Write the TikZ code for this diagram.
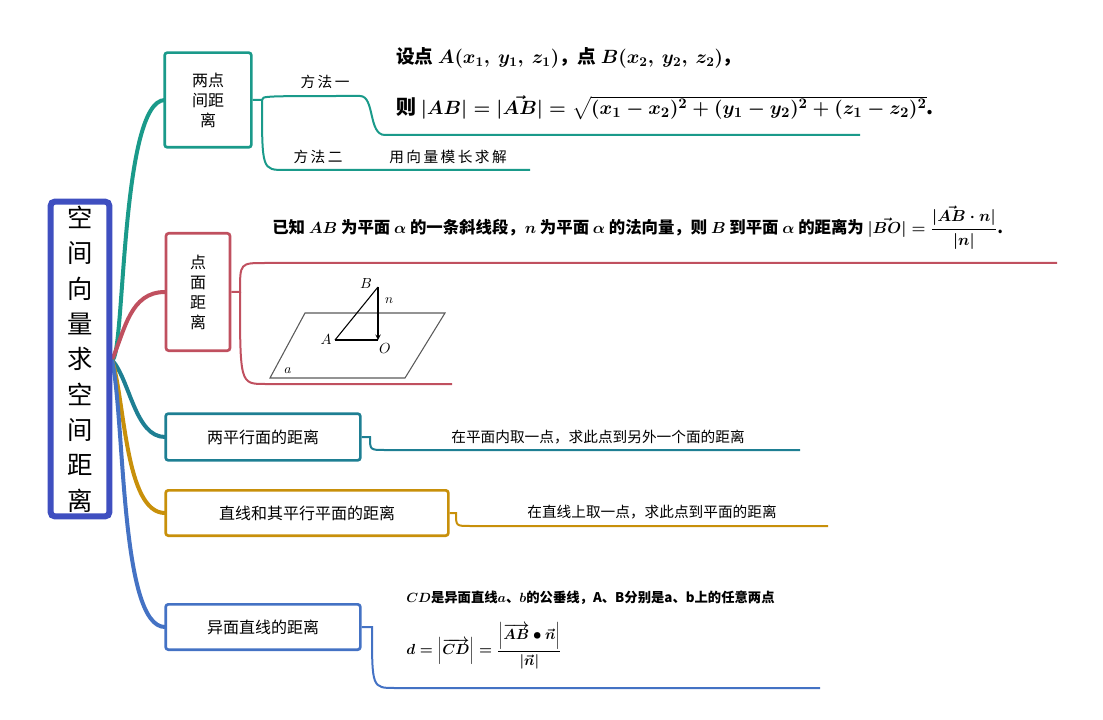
\documentclass[tikz,border=0pt]{standalone}
\usepackage{fontspec}
\setmainfont{Noto Sans CJK SC}
\usepackage{amsmath}
\begin{document}
\begin{tikzpicture}[x=0.75pt,y=-0.75pt,
  box/.style={draw=#1,line width=2pt,fill=white,rounded corners=2pt,inner sep=4pt,font=\fontsize{12}{15}\selectfont,align=center},
  br/.style={draw=#1,line width=3pt},
  ln/.style={draw=#1,line width=1.5pt},
  lab/.style={font=\fontsize{11}{13}\selectfont,anchor=center,inner sep=0pt}]
\definecolor{cT}{HTML}{1A9A8A}
\definecolor{cR}{HTML}{C0505F}
\definecolor{cB}{HTML}{1E7F93}
\definecolor{cG}{HTML}{C8900A}
\definecolor{cL}{HTML}{4472C4}
\definecolor{cRoot}{HTML}{3F4FC0}
\useasboundingbox (0,0) rectangle (1103,720);
\coordinate (r) at (112,360);
% root connectors
\draw[br=cT] (r) .. controls (125,360) and (120,100) .. (165,100);
\draw[br=cR] (r) .. controls (125,330) and (130,292) .. (165,292);
\draw[br=cB] (r) .. controls (130,380) and (135,437) .. (165,437);
\draw[br=cG] (r) .. controls (125,400) and (125,513) .. (165,513);
\draw[br=cL] (r) .. controls (125,420) and (120,627) .. (165,627);
\node[draw=cRoot,line width=4.5pt,fill=white,rounded corners=3pt,minimum width=44pt,minimum height=236pt,inner sep=0pt,align=center,font=\fontsize{19}{26.5}\selectfont] (root) at (80,359) {空\\间\\向\\量\\求\\空\\间\\距\\离};
% branch 1
\node[box=cT,minimum width=65pt,minimum height=71pt] (b1) at (208,100) {两点\\间距\\离};
\coordinate (m1) at (262,100);
\draw[ln=cT] (b1.east) -- (m1) .. controls (262,96) .. (360,96) .. controls (375,96) and (368,135) .. (385,135) -- (860,135);
\draw[ln=cT] (m1) .. controls (262,170) .. (285,170) -- (530,170);
\node[lab] (f1) at (325,82) {方\,法\,一};
\node[lab] (f2) at (318,157) {方\,法\,二};
\node[lab] (f2t) at (448,157) {用\,向\,量\,模\,长\,求\,解};
\node[anchor=west,font=\fontsize{14}{16}\selectfont\bfseries,inner sep=0pt] (t11) at (396,58) {设点 $\boldsymbol{A(x_1,\ y_1,\ z_1)}$，点 $\boldsymbol{B(x_2,\ y_2,\ z_2)}$，};
\node[anchor=west,font=\fontsize{15}{17}\selectfont\bfseries,inner sep=0pt] (t12) at (396,108) {则 $\boldsymbol{|AB|=|\vec{AB}|=\sqrt{(x_1-x_2)^2+(y_1-y_2)^2+(z_1-z_2)^2}}$.};
% branch 2
\node[box=cR,minimum width=48pt,minimum height=88pt] (b2) at (198,292) {点\\面\\距\\离};
\coordinate (m2) at (240,292);
\draw[ln=cR] (b2.east) -- (m2) .. controls (240,263) .. (265,263) -- (1057,263);
\draw[ln=cR] (m2) .. controls (240,384) .. (265,384) -- (452,384);
\node[anchor=west,font=\fontsize{12.3}{14}\selectfont\bfseries,inner sep=0pt] (t2) at (272,228) {已知 $\boldsymbol{AB}$ 为平面 $\boldsymbol{\alpha}$ 的一条斜线段，$\boldsymbol{n}$ 为平面 $\boldsymbol{\alpha}$ 的法向量，则 $\boldsymbol{B}$ 到平面 $\boldsymbol{\alpha}$ 的距离为 $\boldsymbol{|\vec{BO}|=\dfrac{|\vec{AB}\cdot n|}{|n|}}$.};
\draw[gray!70!black,line width=0.8pt] (305,313) -- (445,313) -- (405,378) -- (270,378) -- cycle;
\coordinate (pB) at (378,287); \coordinate (pA) at (335,340); \coordinate (pO) at (378,340);
\draw[black,line width=0.8pt] (pA) -- (pB);
\draw[black,line width=0.8pt] (pA) -- (pO);
\draw[black,line width=0.8pt,-stealth] (pB) -- (pO);
\node[font=\fontsize{11}{13}\selectfont\itshape,inner sep=0pt] (lB) at (366,284) {$B$};
\node[font=\fontsize{10}{12}\selectfont,inner sep=0pt] (ln) at (389,301) {$n$};
\node[font=\fontsize{11}{13}\selectfont,inner sep=0pt] (lA) at (326,340) {$A$};
\node[font=\fontsize{11}{13}\selectfont,inner sep=0pt] (lO) at (385,349) {$O$};
\node[font=\fontsize{10}{12}\selectfont,inner sep=0pt] (la) at (288,371) {$a$};
% branch 3
\node[box=cB,minimum width=146pt,minimum height=35pt] (b3) at (263,437) {两平行面的距离};
\draw[ln=cB] (b3.east) -- (370,437) .. controls (370,450) .. (385,450) -- (800,450);
\node[lab] (t3) at (598,437) {在平面内取一点，求此点到另外一个面的距离};
% branch 4
\node[box=cG,minimum width=212pt,minimum height=34pt] (b4) at (307,513) {直线和其平行平面的距离};
\draw[ln=cG] (b4.east) -- (456,513) .. controls (456,526) .. (470,526) -- (828,526);
\node[lab] (t4) at (652,512) {在直线上取一点，求此点到平面的距离};
% branch 5
\node[box=cL,minimum width=146pt,minimum height=34pt] (b5) at (263,627) {异面直线的距离};
\draw[ln=cL] (b5.east) -- (372,627) .. controls (372,688) .. (395,688) -- (820,688);
\node[anchor=west,font=\fontsize{10}{12}\selectfont\bfseries,inner sep=0pt] (t5) at (406,598) {$\boldsymbol{CD}$是异面直线$\boldsymbol{a}$、$\boldsymbol{b}$的公垂线，A、B分别是a、b上的任意两点};
\node[anchor=west,font=\fontsize{10.5}{12}\selectfont,inner sep=0pt] (t6) at (406,646) {$\boldsymbol{d=\left|\overrightarrow{CD}\right|=\dfrac{\left|\overrightarrow{AB}\bullet\vec{n}\right|}{\left|\vec{n}\right|}}$};
\end{tikzpicture}
\end{document}
